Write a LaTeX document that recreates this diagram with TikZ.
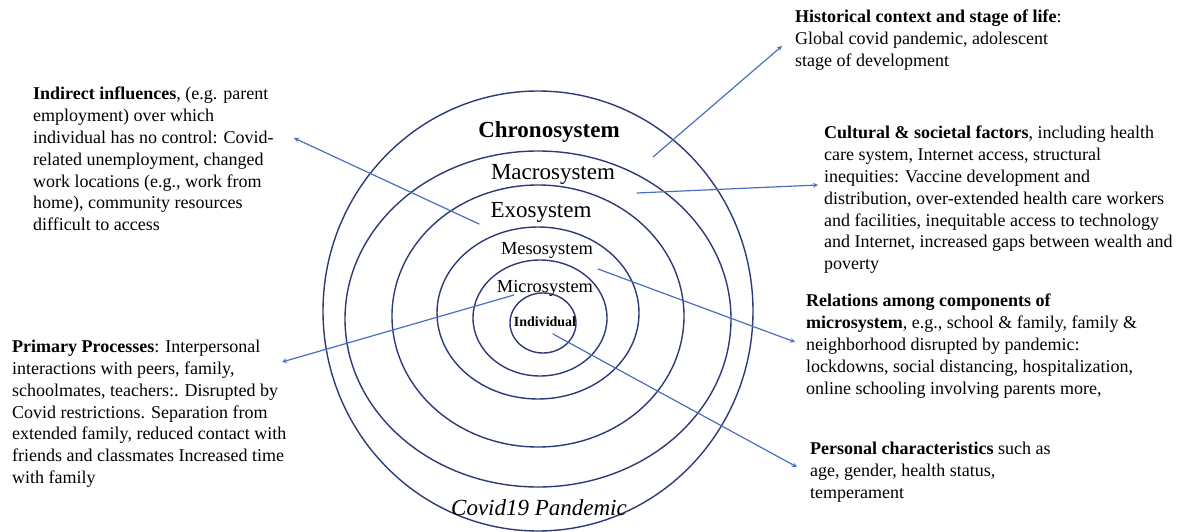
\documentclass[tikz,border=0pt]{standalone}
\usepackage{fontspec}
\setmainfont{Liberation Serif}
\definecolor{ringcol}{HTML}{2E3A78}
\definecolor{pointcol}{HTML}{4A6FBD}
\tikzset{
	block/.style={anchor=north west, align=left, inner sep=0pt, font=\fontsize{18}{21.8}\selectfont},
	sysname/.style={inner sep=0pt, font=\fontsize{23}{26}\selectfont},
	subname/.style={inner sep=0pt, font=\fontsize{18.4}{22}\selectfont},
	ring/.style={ringcol, line width=1.4pt},
	pointer/.style={pointcol, line width=1.2pt, ->},
}
\begin{document}
\begin{tikzpicture}[x=1pt, y=-1pt, line join=round, line cap=round, >=stealth]
	\def\cx{538} \def\cy{316}
	\useasboundingbox (0,0) rectangle (1187,532);
	% các vòng
	\draw[ring] (\cx+5,\cy+7) ellipse [x radius=33, y radius=30];
	\draw[ring] (\cx+2,\cy+2) ellipse [x radius=67, y radius=58];
	\draw[ring] (\cx,\cy-3) ellipse [x radius=101, y radius=86];
	\draw[ring] (\cx,\cy) ellipse [x radius=146, y radius=131];
	\draw[ring] (\cx,\cy+3) ellipse [x radius=193, y radius=168];
	\draw[ring] (\cx,\cy-5) ellipse [x radius=215, y radius=220];
	\node[sysname] (chrono) at (549,132) {\textbf{Chronosystem}};
	\node[sysname] (macro) at (553,174) {Macrosystem};
	\node[sysname] (exo) at (541,212) {Exosystem};
	\node[subname] (meso) at (547,250) {Mesosystem};
	\node[subname] (micro) at (545,288) {Microsystem};
	\node[inner sep=0pt, font=\fontsize{14}{16}\selectfont] (indiv) at (545,322) {\textbf{Individual}};
	\node[sysname] (covid) at (539,508) {\textit{Covid19 Pandemic}};
	\node[block] (histo) at (795,10) {\textbf{Historical context and stage of life}:\\
		Global covid pandemic, adolescent\\
		stage of development};
	\node[block] (indirect) at (33,87) {\textbf{Indirect influences}, (e.g. parent\\
		employment) over which\\
		individual has no control: Covid-\\
		related unemployment, changed\\
		work locations (e.g., work from\\
		home), community resources\\
		difficult to access};
	\node[block] (cultural) at (824,126) {\textbf{Cultural \& societal factors}, including health\\
		care system, Internet access, structural\\
		inequities: Vaccine development and\\
		distribution, over-extended health care workers\\
		and facilities, inequitable access to technology\\
		and Internet, increased gaps between wealth and\\
		poverty};
	\node[block] (relations) at (806,294) {\textbf{Relations among components of}\\
		\textbf{microsystem}, e.g., school \& family, family \&\\
		neighborhood disrupted by pandemic:\\
		lockdowns, social distancing, hospitalization,\\
		online schooling involving parents more,};
	\node[block] (primary) at (12,340) {\textbf{Primary Processes}: Interpersonal\\
		interactions with peers, family,\\
		schoolmates, teachers:. Disrupted by\\
		Covid restrictions. Separation from\\
		extended family, reduced contact with\\
		friends and classmates Increased time\\
		with family};
	\node[block] (personal) at (810,442) {\textbf{Personal characteristics} such as\\
		age, gender, health status,\\
		temperament};
	% mũi tên
	\coordinate (chronoT) at (653,157);
	\coordinate (chronoH) at (782,46);
	\coordinate (macroT) at (637,193);
	\coordinate (macroH) at (818,185);
	\coordinate (exoT) at (479,224);
	\coordinate (exoH) at (294,138);
	\coordinate (microT) at (514,295);
	\coordinate (microH) at (282,362);
	\coordinate (mesoT) at (598,269);
	\coordinate (mesoH) at (795,342);
	\coordinate (indivT) at (553,334);
	\coordinate (indivH) at (797,467);
	\draw[pointer] (chronoT)--(chronoH);
	\draw[pointer] (macroT)--(macroH);
	\draw[pointer] (exoT)--(exoH);
	\draw[pointer] (microT)--(microH);
	\draw[pointer] (mesoT)--(mesoH);
	\draw[pointer] (indivT)--(indivH);
\end{tikzpicture}
\end{document}
